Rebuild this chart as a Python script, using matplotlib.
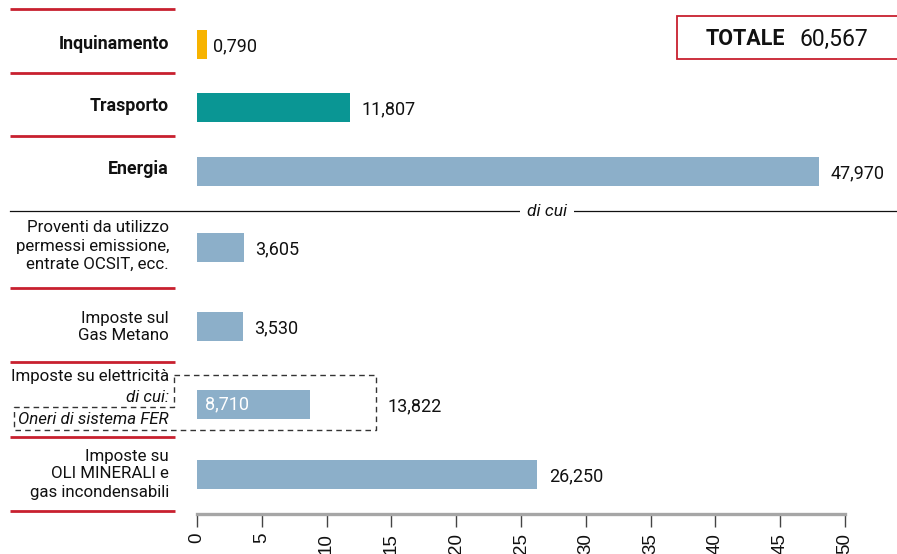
import matplotlib
matplotlib.use("Agg")
import matplotlib.pyplot as plt
from matplotlib.patches import Rectangle

# data
categories = ["Inquinamento", "Trasporto", "Energia",
              "Proventi da utilizzo\npermessi emissione,\nentrate OCSIT, ecc.",
              "Imposte sul\nGas Metano",
              "Imposte su elettricità",
              "Imposte su\nOLI MINERALI e\ngas incondensabili"]
values = [0.790, 11.807, 47.970, 3.605, 3.530, 8.710, 26.250]
bold_labels = [True, True, True, False, False, False, False]
elettricita_totale = 13.822
totale = 60.567
xticks = list(range(0, 51, 5))

YELLOW = "#F7B300"
TEAL = "#0A9694"
BLUE = "#8CAFC9"
RED = "#C8202F"
bar_colors = [YELLOW, TEAL, BLUE, BLUE, BLUE, BLUE, BLUE]

W, H = 897, 554
FONT = ["Roboto", "DejaVu Sans"]
plt.rcParams["font.family"] = FONT

# layout (pixel rows)
row_y = [44, 107, 171, 247, 326, 404, 474]
label_y = [44, 106, 169, 246, 327, 377, 474]
sep_y = [9, 73, 136, 288, 362, 437, 511]
X0, X1 = 197, 845

fig = plt.figure(figsize=(W / 100, H / 100), dpi=100)
ax = fig.add_axes([X0 / W, 0, (X1 - X0) / W, 1])
ax.set_xlim(0, 50)
ax.set_ylim(H, 0)
scale = (X1 - X0) / 50.0


def px(p):
    return (p - X0) / scale


ax.barh(row_y, values, height=29, color=bar_colors, zorder=2)

# value labels
VAL_FS = 13
for i, (y, v) in enumerate(zip(row_y, values)):
    txt = f"{v:.3f}".replace(".", ",")
    if i == 5:
        ax.text(0.6, y, txt, ha="left", va="center", fontsize=VAL_FS, color="white")
    else:
        off = 0.45 if i == 0 else 0.9
        ax.text(v + off, y + 2, txt, ha="left", va="center", fontsize=VAL_FS, color="#111111")
ax.text(elettricita_totale + 0.9, row_y[5] + 2, f"{elettricita_totale:.3f}".replace(".", ","),
        ha="left", va="center", fontsize=VAL_FS, color="#111111")

# category labels
for lab, y, b in zip(categories, label_y, bold_labels):
    ax.text(px(169), y, lab, ha="right", va="center", fontsize=12.8 if b else 12.2,
            fontweight="bold" if b else "normal", linespacing=1.25, color="#111111",
            clip_on=False)
ax.text(px(169), 398, "di cui:", ha="right", va="center", fontsize=12.2,
        style="italic", color="#111111")
ax.text(px(169), 420, "Oneri di sistema FER", ha="right", va="center", fontsize=12.2,
        style="italic", color="#111111")

# dashed box round electricity
bx = [px(174), elettricita_totale, elettricita_totale, px(14), px(14), px(174), px(174)]
by = [375, 375, 430, 430, 407, 407, 375]
ax.plot(bx, by, color="#333333", lw=1, ls=(0, (4, 3)), clip_on=False, zorder=3)

# red separators
for y in sep_y:
    ax.plot([px(10), px(175)], [y, y], color=RED, lw=2, clip_on=False, solid_capstyle="butt")

# "di cui" line
ax.plot([px(10), px(897)], [211, 211], color="#111111", lw=0.9, clip_on=False)
ax.text(px(547), 211, "di cui", ha="center", va="center", fontsize=12.5, style="italic",
        color="#111111", bbox=dict(facecolor="white", edgecolor="none", pad=5))

# totale box
ax.add_patch(Rectangle((px(677), 16), px(905) - px(677), 43, facecolor="white",
                       edgecolor=RED, lw=1.3, clip_on=False))
ax.text(px(706), 39, "TOTALE", ha="left", va="center", fontsize=15.5, fontweight="bold",
        color="#111111")
ax.text(px(799), 39, f"{totale:.3f}".replace(".", ","), ha="left", va="center",
        fontsize=16.5, color="#111111")

# axis
for s in ["top", "left", "right"]:
    ax.spines[s].set_visible(False)
ax.spines["bottom"].set_position(("data", 514))
ax.spines["bottom"].set_color("#A6A6A6")
ax.spines["bottom"].set_linewidth(2.4)
ax.set_yticks([])
ax.set_xticks(xticks)
ax.set_xticklabels([str(t) for t in xticks], fontfamily=["Liberation Sans", "DejaVu Sans"])
ax.tick_params(axis="x", direction="out", length=9.5, width=1, color="#444444",
               labelrotation=90, labelsize=13.5, pad=4, labelcolor="#111111")
ax.patch.set_alpha(0)

fig.savefig("out.png", dpi=100)
